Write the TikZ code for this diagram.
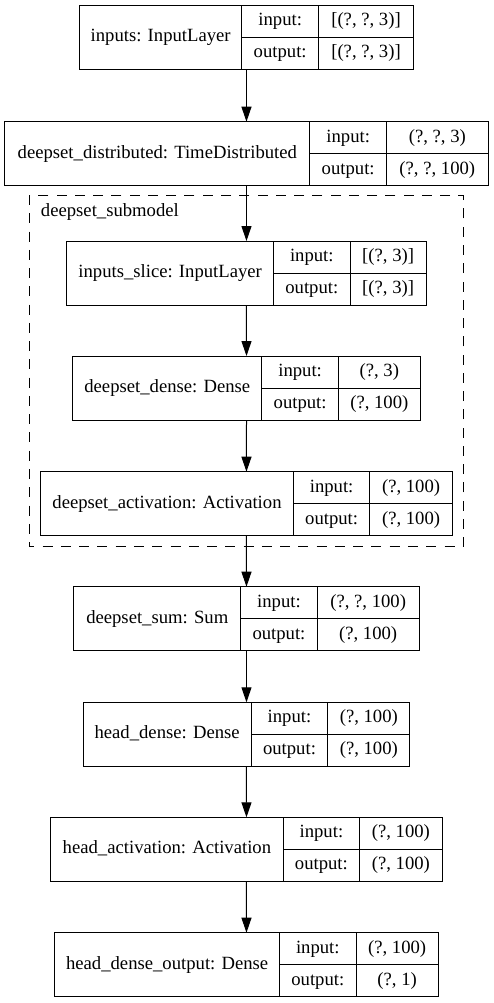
\documentclass[tikz,border=0pt]{standalone}
\usepackage{fontspec}
\setmainfont{Liberation Serif}
\usetikzlibrary{arrows.meta,positioning,fit}

\tikzset{
  layerbox/.style={draw, line width=0.75pt, inner sep=0pt, outer sep=0pt, anchor=north west,
    font=\fontsize{14pt}{16pt}\selectfont, text height=0.66em, text depth=0pt},
  namebox/.style={layerbox, minimum height=48pt},
  portbox/.style={layerbox, minimum height=24pt, minimum width=57.5pt},
  shapebox/.style={layerbox, minimum height=24pt},
  wholebox/.style={inner sep=0pt, outer sep=0pt},
  flow/.style={line width=0.75pt, -{Triangle[length=11.25pt, width=7.5pt]}},
  clusterline/.style={line width=0.75pt, dash pattern=on 7.5pt off 6.2pt}
}

\begin{document}
\begin{tikzpicture}[x=0.75pt, y=-0.75pt]
  \useasboundingbox (0,0) rectangle (493,1003);

  % inputs
  \node[namebox, minimum width=121.8pt] (inp) at (79.45,5) {inputs: InputLayer};
  \node[portbox] (inpIn)  at (inp.north east)  {input:};
  \node[portbox] (inpOut) at (inpIn.south west) {output:};
  \node[shapebox, minimum width=71.25pt] (inpInS)  at (inpIn.north east)  {[(?, ?, 3)]};
  \node[shapebox, minimum width=71.25pt] (inpOutS) at (inpOut.north east) {[(?, ?, 3)]};
  \node[wholebox, fit=(inp)(inpOutS)] (inpAll) {};

  % time distributed
  \node[namebox, minimum width=228.75pt] (dist) at (4.85,121.7) {deepset\_distributed: TimeDistributed};
  \node[portbox] (distIn)  at (dist.north east)  {input:};
  \node[portbox] (distOut) at (distIn.south west) {output:};
  \node[shapebox, minimum width=76.2pt] (distInS)  at (distIn.north east)  {(?, ?, 3)};
  \node[shapebox, minimum width=76.2pt] (distOutS) at (distOut.north east) {(?, ?, 100)};
  \node[wholebox, fit=(dist)(distOutS)] (distAll) {};

  % submodel
  \draw[clusterline] (29,195) rectangle (463.3,546.7);
  \node[anchor=base west, inner sep=0pt, font=\fontsize{14pt}{16pt}\selectfont] (submodel) at (40.7,216.7) {deepset\_submodel};

  \node[namebox, minimum width=154.95pt] (slice) at (66.85,241) {inputs\_slice: InputLayer};
  \node[portbox] (sliceIn)  at (slice.north east)  {input:};
  \node[portbox] (sliceOut) at (sliceIn.south west) {output:};
  \node[shapebox, minimum width=57pt] (sliceInS)  at (sliceIn.north east)  {[(?, 3)]};
  \node[shapebox, minimum width=57pt] (sliceOutS) at (sliceOut.north east) {[(?, 3)]};
  \node[wholebox, fit=(slice)(sliceOutS)] (sliceAll) {};

  \node[namebox, minimum width=141.75pt] (ddense) at (72.8,356) {deepset\_dense: Dense};
  \node[portbox] (ddenseIn)  at (ddense.north east)  {input:};
  \node[portbox] (ddenseOut) at (ddenseIn.south west) {output:};
  \node[shapebox, minimum width=61.3pt] (ddenseInS)  at (ddenseIn.north east)  {(?, 3)};
  \node[shapebox, minimum width=61.3pt] (ddenseOutS) at (ddenseOut.north east) {(?, 100)};
  \node[wholebox, fit=(ddense)(ddenseOutS)] (ddenseAll) {};

  \node[namebox, minimum width=189.45pt] (dact) at (40.7,471.7) {deepset\_activation: Activation};
  \node[portbox] (dactIn)  at (dact.north east)  {input:};
  \node[portbox] (dactOut) at (dactIn.south west) {output:};
  \node[shapebox, minimum width=61.7pt] (dactInS)  at (dactIn.north east)  {(?, 100)};
  \node[shapebox, minimum width=61.7pt] (dactOutS) at (dactOut.north east) {(?, 100)};
  \node[wholebox, fit=(dact)(dactOutS)] (dactAll) {};

  % sum and head
  \node[namebox, minimum width=125pt] (dsum) at (73.95,586.7) {deepset\_sum: Sum};
  \node[portbox] (dsumIn)  at (dsum.north east)  {input:};
  \node[portbox] (dsumOut) at (dsumIn.south west) {output:};
  \node[shapebox, minimum width=76.3pt] (dsumInS)  at (dsumIn.north east)  {(?, ?, 100)};
  \node[shapebox, minimum width=76.3pt] (dsumOutS) at (dsumOut.north east) {(?, 100)};
  \node[wholebox, fit=(dsum)(dsumOutS)] (dsumAll) {};

  \node[namebox, minimum width=126pt] (hdense) at (83.15,702.3) {head\_dense: Dense};
  \node[portbox] (hdenseIn)  at (hdense.north east)  {input:};
  \node[portbox] (hdenseOut) at (hdenseIn.south west) {output:};
  \node[shapebox, minimum width=61.5pt] (hdenseInS)  at (hdenseIn.north east)  {(?, 100)};
  \node[shapebox, minimum width=61.5pt] (hdenseOutS) at (hdenseOut.north east) {(?, 100)};
  \node[wholebox, fit=(hdense)(hdenseOutS)] (hdenseAll) {};

  \node[namebox, minimum width=174.2pt] (hact) at (50.8,817.3) {head\_activation: Activation};
  \node[portbox] (hactIn)  at (hact.north east)  {input:};
  \node[portbox] (hactOut) at (hactIn.south west) {output:};
  \node[shapebox, minimum width=61.8pt] (hactInS)  at (hactIn.north east)  {(?, 100)};
  \node[shapebox, minimum width=61.8pt] (hactOutS) at (hactOut.north east) {(?, 100)};
  \node[wholebox, fit=(hact)(hactOutS)] (hactAll) {};

  \node[namebox, minimum width=168.45pt] (hout) at (54.85,932.7) {head\_dense\_output: Dense};
  \node[portbox] (houtIn)  at (hout.north east)  {input:};
  \node[portbox] (houtOut) at (houtIn.south west) {output:};
  \node[shapebox, minimum width=61.5pt] (houtInS)  at (houtIn.north east)  {(?, 100)};
  \node[shapebox, minimum width=61.5pt] (houtOutS) at (houtOut.north east) {(?, 1)};
  \node[wholebox, fit=(hout)(houtOutS)] (houtAll) {};

  % arrows
  \draw[flow] (inpAll.south)    -- (distAll.north);
  \draw[flow] (distAll.south)   -- (sliceAll.north);
  \draw[flow] (sliceAll.south)  -- (ddenseAll.north);
  \draw[flow] (ddenseAll.south) -- (dactAll.north);
  \draw[flow] (dactAll.south)   -- (dsumAll.north);
  \draw[flow] (dsumAll.south)   -- (hdenseAll.north);
  \draw[flow] (hdenseAll.south) -- (hactAll.north);
  \draw[flow] (hactAll.south)   -- (houtAll.north);
\end{tikzpicture}
\end{document}
